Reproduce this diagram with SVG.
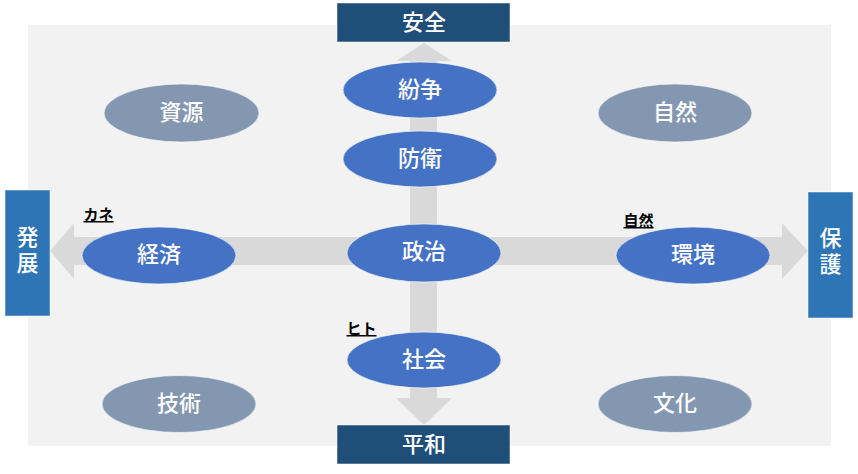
<svg xmlns="http://www.w3.org/2000/svg" width="858" height="474" viewBox="0 0 858 474">
<style>
.t{font-family:"Noto Sans CJK JP","Noto Sans",sans-serif;font-size:22px;fill:#ffffff;text-anchor:middle;dominant-baseline:central;font-weight:500}
.v{font-family:"Noto Sans CJK JP","Noto Sans",sans-serif;font-size:22px;fill:#ffffff;text-anchor:middle;writing-mode:vertical-rl;letter-spacing:4px;font-weight:500}
.s{font-family:"Noto Sans CJK JP","Noto Sans",sans-serif;font-size:15px;fill:#000000;font-weight:bold;text-anchor:middle;text-decoration:underline}
.blue{fill:#4472c4;stroke:#ffffff;stroke-opacity:0.6;stroke-width:1}
.gray{fill:#8497b0;stroke:#ffffff;stroke-opacity:0.6;stroke-width:1}
.arrow{fill:#d9d9d9}
</style>
<rect x="0" y="0" width="858" height="474" fill="#ffffff"/>
<rect x="28" y="25" width="803" height="421" fill="#f2f2f2"/>
<g id="connectors">
<polygon class="arrow" points="50,251 74,223 74,237 782,237 782,223 808,251 782,279 782,265 74,265 74,279"/>
<polygon class="arrow" points="424,43 452,61 437,61 437,398 452,398 424,425 396,398 410,398 410,61 396,61"/>
</g>
<g id="box-anzen"><rect x="337" y="3" width="173" height="39" fill="#1f4e79" stroke="#ffffff" stroke-opacity="0.5"/><text class="t" x="424" y="20">安全</text></g>
<g id="box-heiwa"><rect x="337" y="425" width="173" height="39" fill="#1f4e79" stroke="#ffffff" stroke-opacity="0.5"/><text class="t" x="424" y="442">平和</text></g>
<g id="box-hatten"><rect x="5" y="190" width="45" height="126" fill="#2e75b6" stroke="#ffffff" stroke-opacity="0.5"/><text class="v" x="27.5" y="252">発展</text></g>
<g id="box-hogo"><rect x="808" y="192" width="45" height="126" fill="#2e75b6" stroke="#ffffff" stroke-opacity="0.5"/><text class="v" x="830.5" y="253">保護</text></g>
<g id="n-shigen"><ellipse class="gray" cx="181.5" cy="113" rx="77.5" ry="29"/><text class="t" x="181.5" y="110">資源</text></g>
<g id="n-shizen"><ellipse class="gray" cx="675" cy="113" rx="77" ry="29"/><text class="t" x="675" y="110">自然</text></g>
<g id="n-gijutsu"><ellipse class="gray" cx="179" cy="404" rx="77" ry="28.5"/><text class="t" x="179" y="401">技術</text></g>
<g id="n-bunka"><ellipse class="gray" cx="675" cy="404" rx="77" ry="28.5"/><text class="t" x="675" y="401">文化</text></g>
<g id="n-funso"><ellipse class="blue" cx="420" cy="90" rx="77" ry="28"/><text class="t" x="420" y="87">紛争</text></g>
<g id="n-boei"><ellipse class="blue" cx="420" cy="159" rx="77" ry="28"/><text class="t" x="420" y="156">防衛</text></g>
<g id="n-seiji"><ellipse class="blue" cx="424" cy="253" rx="77" ry="29"/><text class="t" x="424" y="249">政治</text></g>
<g id="n-keizai"><ellipse class="blue" cx="159" cy="255.5" rx="77" ry="28.5"/><text class="t" x="159" y="252">経済</text></g>
<g id="n-kankyo"><ellipse class="blue" cx="693" cy="255.5" rx="77" ry="28.5"/><text class="t" x="693" y="252">環境</text></g>
<g id="n-shakai"><ellipse class="blue" cx="424" cy="360" rx="77" ry="28"/><text class="t" x="424" y="357">社会</text></g>
<g id="labels">
<text class="s" x="98.5" y="220">カネ</text>
<text class="s" x="638.5" y="226">自然</text>
<text class="s" x="361.5" y="334">ヒト</text>
</g>
</svg>
